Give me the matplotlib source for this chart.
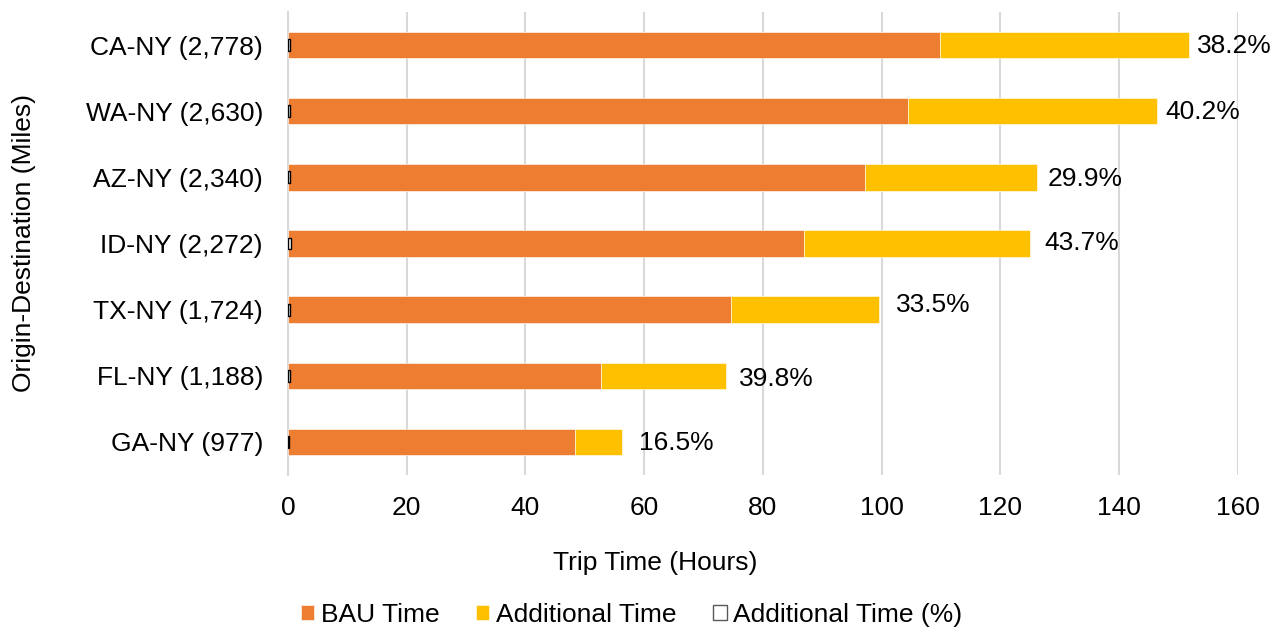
import numpy as np
import matplotlib
matplotlib.use("Agg")
import matplotlib.pyplot as plt

plt.rcParams['font.family'] = ['Liberation Sans', 'DejaVu Sans']

# 线路 (起点-终点, 里程)，自下而上
routes = ['GA-NY (977)', 'FL-NY (1,188)', 'TX-NY (1,724)', 'ID-NY (2,272)',
          'AZ-NY (2,340)', 'WA-NY (2,630)', 'CA-NY (2,778)']
bau_time = [48.3, 52.7, 74.6, 86.9, 97.1, 104.4, 109.8]
extra_time = [8.0, 21.0, 25.0, 38.0, 29.0, 42.0, 42.0]
extra_pct = [16.5, 39.8, 33.5, 43.7, 29.9, 40.2, 38.2]
x_ticks = [0, 20, 40, 60, 80, 100, 120, 140, 160]

# 百分比标签相对条形末端的偏移 (像素)
label_dx = [17, 13, 17, 15, 11, 8, 8]
label_dy = [-1, -3, 5, 0, -2, -1, -1]

ORANGE = '#ED7D31'
GOLD = '#FFC000'
GRID = '#D9D9D9'
FS = 19
PX = 72 / 100  # 像素 -> 点

fig = plt.figure(figsize=(12.76, 6.29), dpi=100)
ax = fig.add_axes([0.2257, 0.2448, 0.9702 - 0.2257, 0.981 - 0.2448])

y = np.arange(len(routes))
bau = np.array(bau_time)
extra = np.array(extra_time)
pct = np.array(extra_pct)

ax.barh(y, bau, height=0.4, color=ORANGE, edgecolor='white', linewidth=0.4,
        label='BAU Time', zorder=3)
ax.barh(y, extra, left=bau, height=0.4, color=GOLD, edgecolor='white',
        linewidth=0.4, label='Additional Time', zorder=3)
# 百分比序列：数值很小，只在 0 附近留下一个细框
ax.barh(y, pct / 100, height=0.18, color='white', edgecolor='black',
        linewidth=1.0, label='Additional Time (%)', zorder=4)

for yi, total, p, dx, dy in zip(y, bau + extra, pct, label_dx, label_dy):
    ax.annotate(f'{p:.1f}%', xy=(total, yi), xytext=(dx * PX, dy * PX),
                textcoords='offset points', va='center', ha='left',
                fontsize=FS, color='black')

ax.set_xlim(0, 160)
ax.set_ylim(-0.5, len(routes) - 0.5)
ax.set_xticks(x_ticks)
ax.set_yticks(y)
ax.set_yticklabels(routes)
ax.tick_params(axis='x', length=0, pad=15, labelsize=FS)
ax.tick_params(axis='y', length=0, pad=18, labelsize=FS)

ax.grid(axis='x', color=GRID, linewidth=1.5, zorder=0)
ax.set_axisbelow(True)
for side in ['top', 'right', 'bottom']:
    ax.spines[side].set_visible(False)
ax.spines['left'].set_color(GRID)
ax.spines['left'].set_linewidth(1.5)

ax.set_xlabel('Trip Time (Hours)', fontsize=FS, labelpad=24)
ax.xaxis.set_label_coords(0.387, -0.165)
ax.set_ylabel('Origin-Destination (Miles)', fontsize=FS, labelpad=36)

leg = fig.legend(loc='center', bbox_to_anchor=(0.495, 0.022), ncol=3,
                 frameon=False, fontsize=FS, handlelength=0.5,
                 handleheight=0.5, handletextpad=0.25, columnspacing=1.4)
leg.legend_handles[2].set_edgecolor('#595959')

fig.savefig('out.png', dpi=100)
